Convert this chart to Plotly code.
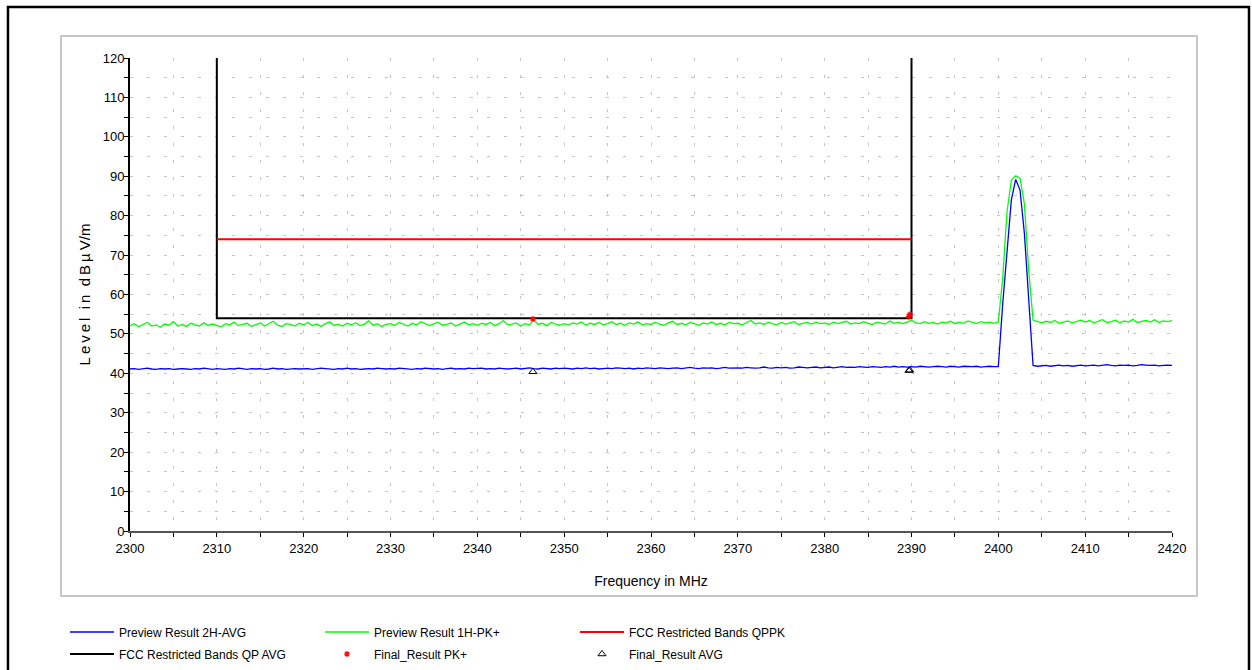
import plotly.graph_objects as go

# ---------------- data ----------------
FREQ_START = 2300.0
FREQ_STEP = 0.5
N_POINTS = 241
freq = [FREQ_START + FREQ_STEP * i for i in range(N_POINTS)]

preview_pk = [
    52.1, 52.6, 51.8, 52.4, 52.9, 52.0, 52.3, 51.7, 52.5, 52.2, 53.1, 52.0, 52.4, 51.9, 52.7, 52.3, 52.0, 52.8, 52.1, 52.5,
    52.2, 51.8, 52.6, 52.3, 53.0, 52.1, 52.4, 52.7, 51.9, 52.3, 52.8, 52.0, 52.5, 53.2, 52.2, 51.9, 52.6, 52.4, 52.0, 52.7,
    52.3, 52.9, 52.1, 52.5, 51.9, 52.6, 53.0, 52.2, 52.4, 52.0, 52.7, 52.3, 52.8, 52.1, 52.5, 53.3, 52.2, 52.6, 51.9, 52.4,
    52.6, 52.2, 52.9, 52.4, 52.0, 52.7, 52.3, 53.1, 52.5, 52.1, 52.6, 52.9, 52.2, 52.4, 52.8, 52.0, 52.5, 53.0, 52.3, 52.6,
    52.2, 52.7, 52.4, 52.9, 52.1, 52.6, 53.4, 52.3, 52.5, 52.8, 52.0, 52.6, 52.3, 53.5, 52.4, 52.7, 52.1, 52.9, 52.5, 52.2,
    52.6, 52.3, 52.8, 52.5, 53.0, 52.2, 52.7, 52.4, 52.9, 52.3, 52.6, 53.1, 52.4, 52.7, 52.2, 52.8, 52.5, 53.0, 52.3, 52.6,
    52.4, 52.9, 52.5, 52.2, 52.8, 53.2, 52.4, 52.7, 52.3, 52.9, 52.6, 52.2, 52.8, 52.5, 53.0, 52.4, 52.7, 52.3, 52.9, 52.6,
    52.7, 52.3, 52.9, 53.4, 52.5, 52.8, 52.4, 53.0, 52.6, 52.3, 52.9, 52.5, 52.8, 53.1, 52.4, 52.7, 52.9, 52.5, 53.0, 52.6,
    52.8, 52.4, 53.0, 52.6, 52.9, 53.2, 52.5, 52.8, 52.6, 53.1, 52.7, 52.4, 53.0, 52.8, 52.5, 53.3, 52.7, 52.9, 52.6, 53.0,
    53.5, 52.8, 52.6, 53.1, 52.7, 52.9, 52.5, 53.0, 52.8, 53.2, 52.6, 53.0, 52.7, 53.3, 52.9, 52.6, 53.1, 52.8, 53.0, 52.7,
    53.0, 64.0, 81.0, 89.0, 90.1, 89.5, 83.0, 66.0, 53.5, 53.1, 52.8, 53.2, 52.9, 53.4, 52.7, 53.0, 53.3, 52.8, 53.1, 53.5,
    53.0, 53.4, 52.8, 53.2, 53.6, 52.9, 53.1, 53.5, 52.8, 53.3, 53.0, 53.7, 52.9, 53.2, 53.4, 53.0, 53.6, 52.9, 53.3, 53.1,
    53.4,
]

preview_avg = [
    41.1, 41.2, 41.0, 41.1, 41.3, 41.1, 41.0, 41.2, 41.1, 41.2, 41.0, 41.1, 41.2, 41.1, 41.0, 41.2, 41.1, 41.3, 41.1, 41.0,
    41.2, 41.1, 41.0, 41.2, 41.1, 41.3, 41.1, 41.0, 41.2, 41.1, 41.2, 41.0, 41.1, 41.3, 41.1, 41.2, 41.0, 41.1, 41.2, 41.1,
    41.1, 41.2, 41.0, 41.1, 41.3, 41.2, 41.1, 41.0, 41.2, 41.1, 41.3, 41.1, 41.2, 41.0, 41.1, 41.2, 41.1, 41.3, 41.2, 41.1,
    41.2, 41.1, 41.3, 41.2, 41.1, 41.0, 41.2, 41.1, 41.3, 41.2, 41.1, 41.2, 41.0, 41.2, 41.3, 41.1, 41.2, 41.1, 41.3, 41.2,
    41.2, 41.3, 41.1, 41.2, 41.1, 41.3, 41.2, 41.1, 41.2, 41.3, 41.1, 41.2, 41.4, 41.2, 41.1, 41.3, 41.2, 41.1, 41.3, 41.2,
    41.3, 41.2, 41.1, 41.3, 41.2, 41.4, 41.2, 41.3, 41.1, 41.2, 41.3, 41.2, 41.4, 41.3, 41.2, 41.3, 41.1, 41.3, 41.2, 41.4,
    41.3, 41.2, 41.4, 41.3, 41.2, 41.3, 41.4, 41.2, 41.3, 41.5, 41.3, 41.2, 41.4, 41.3, 41.4, 41.2, 41.3, 41.5, 41.3, 41.4,
    41.4, 41.3, 41.5, 41.4, 41.3, 41.4, 41.6, 41.4, 41.3, 41.5, 41.4, 41.5, 41.3, 41.4, 41.6, 41.5, 41.4, 41.5, 41.6, 41.4,
    41.5, 41.6, 41.4, 41.5, 41.7, 41.5, 41.6, 41.5, 41.7, 41.6, 41.5, 41.7, 41.6, 41.5, 41.7, 41.6, 41.8, 41.6, 41.7, 41.6,
    41.7, 41.6, 41.8, 41.7, 41.6, 41.7, 41.8, 41.7, 41.6, 41.8, 41.7, 41.6, 41.8, 41.7, 41.7, 41.8, 41.6, 41.7, 41.8, 41.7,
    41.7, 57.5, 71.0, 84.0, 89.2, 86.5, 75.5, 58.0, 42.0, 41.8, 41.9, 42.0, 41.8, 41.9, 42.1, 41.9, 42.0, 41.8, 42.0, 42.1,
    41.9, 42.0, 42.1, 41.9, 42.0, 42.2, 42.0, 41.9, 42.1, 42.0, 42.1, 41.9, 42.0, 42.2, 42.1, 42.0, 42.1, 41.9, 42.0, 42.1,
    42.0,
]

qp_avg_freq = [2310, 2310, 2390, 2390]
qp_avg_level = [120, 54, 54, 120]

qppk_freq = [2310, 2390]
qppk_level = [74, 74]

final_pk_freq = [2346.4, 2389.7, 2389.8]
final_pk_level = [53.8, 54.4, 54.9]

final_avg_freq = [2346.4, 2389.7, 2389.8]
final_avg_level = [40.4, 40.7, 40.8]

x_ticks = [2300, 2310, 2320, 2330, 2340, 2350, 2360, 2370, 2380, 2390, 2400, 2410, 2420]
y_ticks = [0, 10, 20, 30, 40, 50, 60, 70, 80, 90, 100, 110, 120]

# ---------------- figure ----------------
FONT = "Liberation Sans, Arial, sans-serif"
GRID = "#c4c4c4"
DASH = "3px,14px"

fig = go.Figure()

fig.add_trace(go.Scatter(x=qp_avg_freq, y=qp_avg_level, mode="lines",
                         name="FCC Restricted Bands QP AVG", legend="legend2", legendrank=1,
                         line=dict(color="#000000", width=2)))
fig.add_trace(go.Scatter(x=qppk_freq, y=qppk_level, mode="lines",
                         name="FCC Restricted Bands QPPK", legend="legend", legendrank=3,
                         line=dict(color="#ff0000", width=2)))
fig.add_trace(go.Scatter(x=freq, y=preview_pk, mode="lines",
                         name="Preview Result 1H-PK+", legend="legend", legendrank=2,
                         line=dict(color="#00ff00", width=1.3)))
fig.add_trace(go.Scatter(x=freq, y=preview_avg, mode="lines",
                         name="Preview Result 2H-AVG", legend="legend", legendrank=1,
                         line=dict(color="#0000ff", width=1.3)))
fig.add_trace(go.Scatter(x=final_pk_freq, y=final_pk_level, mode="markers",
                         name="Final_Result PK+", legend="legend2", legendrank=2,
                         marker=dict(symbol="asterisk-open", size=5, color="#ff0000",
                                     line=dict(color="#ff0000", width=1.2))))
fig.add_trace(go.Scatter(x=final_avg_freq, y=final_avg_level, mode="markers",
                         name="Final_Result AVG", legend="legend2", legendrank=3,
                         marker=dict(symbol="triangle-up-open", size=7, color="#000000",
                                     line=dict(color="#000000", width=1))))

fig.update_xaxes(
    range=[2300, 2420], tickvals=x_ticks, ticktext=[str(v) for v in x_ticks],
    showline=True, linecolor="#555555", linewidth=2,
    ticks="outside", ticklen=4, tickcolor="#000000", tickwidth=1,
    showgrid=True, gridcolor=GRID, gridwidth=1, griddash=DASH,
    minor=dict(dtick=5, ticks="outside", ticklen=4, tickcolor="#000000",
               showgrid=True, gridcolor=GRID, gridwidth=1, griddash=DASH),
    tickfont=dict(family=FONT, size=13, color="#000000"),
    title=dict(text="Frequency in MHz", font=dict(family=FONT, size=14, color="#000000"), standoff=22),
    zeroline=False,
)
fig.update_yaxes(
    range=[0, 120], tickvals=y_ticks, ticktext=[str(v) for v in y_ticks],
    showline=True, linecolor="#000000", linewidth=2,
    ticks="outside", ticklen=4, tickcolor="#000000", tickwidth=1,
    showgrid=True, gridcolor=GRID, gridwidth=1, griddash=DASH,
    minor=dict(dtick=5, ticks="outside", ticklen=4, tickcolor="#000000",
               showgrid=True, gridcolor=GRID, gridwidth=1, griddash=DASH),
    tickfont=dict(family=FONT, size=13, color="#000000"),
    ticklabelstandoff=-3,
    title=dict(text="L\u2009e\u2009v\u2009e\u2009l  i\u2009n  d\u2009B\u2009µ\u2009V/m",
               font=dict(family=FONT, size=15, color="#000000"), standoff=8),
    zeroline=False,
)

# frames (paper coordinates relative to the plot area)
fig.add_shape(type="rect", xref="paper", yref="paper",
              x0=-0.0662, x1=1.0240, y0=-0.1374, y1=1.0465,
              line=dict(color="#b4b4b4", width=1.5), layer="below")
fig.add_shape(type="rect", xref="paper", yref="paper",
              x0=-0.1171, x1=1.0739, y0=-0.34, y1=1.1078,
              line=dict(color="#000000", width=2.5), layer="below")

LEG_X = -0.0624
legend_common = dict(orientation="h", x=LEG_X, xanchor="left", yanchor="middle",
                     entrywidth=196, entrywidthmode="pixels", itemwidth=44,
                     font=dict(family=FONT, size=12, color="#000000"),
                     bgcolor="rgba(0,0,0,0)", traceorder="normal")

fig.update_layout(
    width=1252, height=670,
    margin=dict(l=130, r=80, t=58, b=139, autoexpand=False),
    paper_bgcolor="#ffffff", plot_bgcolor="#ffffff",
    font=dict(family=FONT, size=13, color="#000000"),
    showlegend=True,
    legend=dict(y=-0.2135, **legend_common),
    legend2=dict(y=-0.260, **legend_common),
)

fig.write_html("out.html",
               config={"displayModeBar": False},
               post_script="document.body.style.margin='0';document.body.style.overflow='hidden';")
